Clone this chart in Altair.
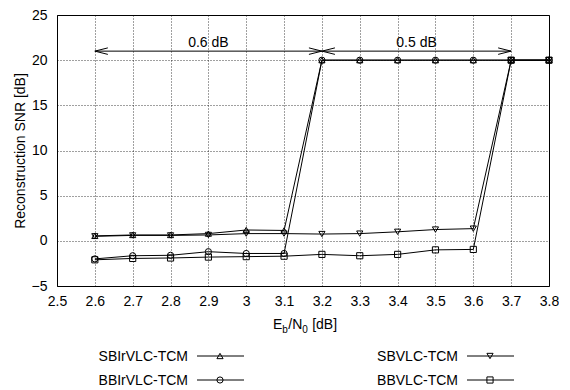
import altair as alt
import pandas as pd

# ---- data ----
x_vals = [2.6, 2.7, 2.8, 2.9, 3.0, 3.1, 3.2, 3.3, 3.4, 3.5, 3.6, 3.7, 3.8]
series_names = ["SBIrVLC-TCM", "SBVLC-TCM", "BBIrVLC-TCM", "BBVLC-TCM"]
sbirvlc = [0.55, 0.65, 0.65, 0.8, 1.2, 1.15, 20, 20, 20, 20, 20, 20, 20]
sbvlc = [0.5, 0.6, 0.6, 0.65, 0.8, 0.8, 0.75, 0.8, 1.0, 1.25, 1.35, 20, 20]
bbirvlc = [-2.0, -1.65, -1.6, -1.2, -1.4, -1.4, 20, 20, 20, 20, 20, 20, 20]
bbvlc = [-2.1, -1.95, -1.9, -1.8, -1.75, -1.7, -1.5, -1.65, -1.5, -1.0, -0.95, 20, 20]
series_values = [sbirvlc, sbvlc, bbirvlc, bbvlc]
shapes = ["triangle-up", "triangle-down", "circle", "square"]

x_ticks = [2.5, 2.6, 2.7, 2.8, 2.9, 3.0, 3.1, 3.2, 3.3, 3.4, 3.5, 3.6, 3.7, 3.8]
y_ticks = [-5, 0, 5, 10, 15, 20, 25]

arrow_start = [2.6, 3.2]
arrow_end = [3.2, 3.7]
arrow_level = [21, 21]
arrow_labels = ["0.6 dB", "0.5 dB"]

FONT = "Liberation Sans"
W, H = 492, 271

rows = []
for name, vals in zip(series_names, series_values):
    for xv, yv in zip(x_vals, vals):
        rows.append({"x": xv, "snr": yv, "series": name})
df = pd.DataFrame(rows)

arrows = pd.DataFrame({
    "x": arrow_start, "x2": arrow_end, "snr": arrow_level, "label": arrow_labels,
    "mid": [(a + b) / 2 for a, b in zip(arrow_start, arrow_end)],
})

xscale = alt.Scale(domain=[2.5, 3.8], nice=False, zero=False)
yscale = alt.Scale(domain=[-5, 25], nice=False, zero=False)

xaxis = alt.Axis(values=x_ticks, format="~g", title=None, labelPadding=8,
                 labelOverlap=False, labelFlush=False)
yaxis = alt.Axis(values=y_ticks, title="Reconstruction SNR [dB]", labelPadding=10,
                 titlePadding=4, labelOverlap=False, labelFlush=False)
X = alt.X("x:Q", scale=xscale, axis=xaxis)
Y = alt.Y("snr:Q", scale=yscale, axis=yaxis)

base = alt.Chart(df)
lines = base.mark_line(color="black", strokeWidth=1).encode(x=X, y=Y, detail="series:N")
points = base.mark_point(filled=False, color="black", size=38, strokeWidth=1, opacity=1).encode(
    x=X, y=Y,
    shape=alt.Shape("series:N", scale=alt.Scale(domain=series_names, range=shapes), legend=None),
)

arr = alt.Chart(arrows)
arrow_lines = arr.mark_rule(color="black", strokeWidth=1).encode(x=X, x2="x2:Q", y=Y)
left_heads = arr.mark_point(shape="M2,-0.5L0,0L2,0.5", filled=False, color="black",
                            size=169, strokeWidth=1, opacity=1).encode(x=X, y=Y)
right_heads = arr.mark_point(shape="M-2,-0.5L0,0L-2,0.5", filled=False, color="black",
                             size=169, strokeWidth=1, opacity=1).encode(
    x=alt.X("x2:Q", scale=xscale, axis=xaxis), y=Y)
arrow_text = arr.mark_text(font=FONT, fontSize=14, color="black", dy=-8, baseline="middle").encode(
    x=alt.X("mid:Q", scale=xscale, axis=xaxis), y=Y, text="label:N")

# ---- x-axis title with subscripts (E_b/N_0 [dB]) ----
one = alt.Data(values=[{}])
title_parts = [("E", 14, 0, 9.3), ("b", 10, 4, 6.0), ("/N", 14, 0, 14.0),
               ("0", 10, 4, 9.9), ("[dB]", 14, 0, 24.9)]
total_w = sum(p[3] for p in title_parts)
cx = W / 2 - total_w / 2 + 2
title_layers = []
for txt, fs, dy, w in title_parts:
    title_layers.append(
        alt.Chart(one).mark_text(text=txt, font=FONT, fontSize=fs, align="left",
                                 baseline="alphabetic", color="black").encode(
            x=alt.value(cx), y=alt.value(314 + dy)))
    cx += w

# ---- legend drawn below the plot (label left, sample right) ----
legend_layers = []
col_right = [131, 401]
row_y = [341, 365]
for i, (name, shp) in enumerate(zip(series_names, shapes)):
    r = col_right[i % 2]
    yy = row_y[i // 2]
    legend_layers.append(alt.Chart(one).mark_text(text=name, font=FONT, fontSize=14, align="right",
                                                  baseline="middle", color="black").encode(
        x=alt.value(r), y=alt.value(yy + 1)))
    legend_layers.append(alt.Chart(one).mark_rule(color="black", strokeWidth=1).encode(
        x=alt.value(r + 9), x2=alt.value(r + 56), y=alt.value(yy)))
    legend_layers.append(alt.Chart(one).mark_point(shape=shp, filled=False, color="black",
                                                   size=38, strokeWidth=1, opacity=1).encode(
        x=alt.value(r + 32), y=alt.value(yy)))

chart = alt.layer(lines, points, arrow_lines, left_heads, right_heads, arrow_text,
                  *title_layers, *legend_layers).properties(
    width=W, height=H,
    autosize=alt.AutoSizeParams(type="none"),
    padding={"left": 49, "top": 7, "right": 10, "bottom": 104},
).configure_view(
    stroke="black", strokeWidth=1
).configure_axis(
    domain=False, ticks=False, grid=True, gridColor="black", gridDash=[1, 2], gridOpacity=0.75,
    labelOverlap=False, labelFlush=False,
    labelFont=FONT, labelFontSize=14, labelColor="black",
    titleFont=FONT, titleFontSize=14, titleColor="black", titleFontWeight="normal",
)

chart.save("out.html", embed_options={"renderer": "svg", "actions": False})
